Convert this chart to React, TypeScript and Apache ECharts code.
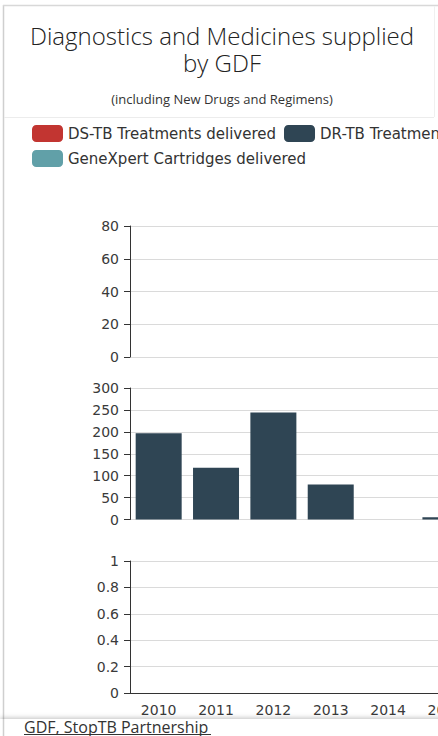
import React, { useEffect, useRef } from "react";
import * as echarts from "echarts";

const categories = ["2010", "2011", "2012", "2013", "2014", "2015"];
const dsTbTreatments: (number | null)[] = [null, null, null, null, null, null];
const drTbTreatments: (number | null)[] = [197, 118, 244, 80, null, 5];
const geneXpertCartridges: (number | null)[] = [null, null, null, null, null, null];

const seriesNames = [
  "DS-TB Treatments delivered",
  "DR-TB Treatments delivered",
  "GeneXpert Cartridges delivered",
];
const seriesColors = ["#c23531", "#2f4554", "#61a0a8"];

const titleText = "Diagnostics and Medicines supplied\nby GDF";
const subtitle = "(including New Drugs and Regimens)";
const footerText = "GDF, StopTB Partnership";

const yAxes = [
  { max: 80, interval: 20 },
  { max: 300, interval: 50 },
  { max: 1, interval: 0.2 },
];

const FONT = "DejaVu Sans";

export default function App() {
  const ref = useRef<HTMLDivElement>(null);

  useEffect(() => {
    if (!ref.current) return;
    const chart = echarts.init(ref.current, undefined, { renderer: "svg" });
    const catWidth = 57.35;
    const gridLeft = 130;
    const gridWidth = catWidth * categories.length;
    const grids = [
      { left: gridLeft, width: gridWidth, top: 226, height: 131 },
      { left: gridLeft, width: gridWidth, top: 388, height: 131.5 },
      { left: gridLeft, width: gridWidth, top: 561, height: 132 },
    ];
    const axisLabelStyle = { color: "#3a3a3a", fontFamily: FONT, fontSize: 14 };
    const barWidth = 46;
    const option: any = {
      animation: false,
      backgroundColor: "#fff",
      grid: grids,
      legend: {
        left: 32,
        top: 125,
        width: 520,
        padding: 0,
        itemWidth: 31,
        itemHeight: 17,
        itemGap: 8,
        icon: "roundRect",
        textStyle: { fontFamily: FONT, fontSize: 15, color: "#333" },
        data: seriesNames,
      },
      xAxis: [0, 1, 2].map((i) => ({
        type: "category",
        gridIndex: i,
        data: categories,
        show: i === 2,
        axisLine: { lineStyle: { color: "#333", width: 1 } },
        axisTick: { length: 6, lineStyle: { color: "#333" } },
        axisLabel: { ...axisLabelStyle, margin: 10 },
      })),
      yAxis: yAxes.map((a, i) => ({
        type: "value",
        gridIndex: i,
        min: 0,
        max: a.max,
        interval: a.interval,
        axisLine: { show: true, lineStyle: { color: "#333", width: 1 } },
        axisTick: { show: true, length: 6, lineStyle: { color: "#333" } },
        axisLabel: { ...axisLabelStyle, margin: 11 },
        splitLine: { show: true, lineStyle: { color: "#dadada", width: 1 } },
      })),
      series: [
        {
          name: seriesNames[0],
          type: "bar",
          xAxisIndex: 0,
          yAxisIndex: 0,
          barWidth,
          data: dsTbTreatments,
          itemStyle: { color: seriesColors[0] },
        },
        {
          name: seriesNames[1],
          type: "bar",
          xAxisIndex: 1,
          yAxisIndex: 1,
          barWidth,
          data: drTbTreatments,
          itemStyle: { color: seriesColors[1] },
        },
        {
          name: seriesNames[2],
          type: "bar",
          xAxisIndex: 2,
          yAxisIndex: 2,
          barWidth,
          data: geneXpertCartridges,
          itemStyle: { color: seriesColors[2] },
        },
      ],
      graphic: [
        { type: "line", z: 100, shape: { x1: 3.5, y1: 5, x2: 3.5, y2: 736 }, style: { stroke: "#cfcfcf", lineWidth: 1.5 } },
        { type: "line", z: 100, shape: { x1: 3, y1: 5.5, x2: 438, y2: 5.5 }, style: { stroke: "#d8d8d8", lineWidth: 1.5 } },
        { type: "line", z: 100, shape: { x1: 4, y1: 117.5, x2: 434, y2: 117.5 }, style: { stroke: "#ececec", lineWidth: 1 } },
        { type: "line", z: 100, shape: { x1: 434.5, y1: 6, x2: 434.5, y2: 117 }, style: { stroke: "#f0f0f0", lineWidth: 1 } },
        {
          type: "text",
          z: 100,
          x: 222,
          y: 48.5,
          style: {
            text: titleText,
            fill: "#222",
            font: `300 24px "Open Sans"`,
            lineHeight: 27,
            textAlign: "center",
            textVerticalAlign: "middle",
          },
        },
        {
          type: "text",
          z: 100,
          x: 222,
          y: 99,
          style: { text: subtitle, fill: "#333", font: `13px "Open Sans"`, textAlign: "center", textVerticalAlign: "middle" },
        },
        {
          type: "rect",
          z: 100,
          shape: { x: 0, y: 719, width: 500, height: 30 },
          style: { fill: "#fff", shadowBlur: 5, shadowColor: "rgba(0,0,0,0.25)", shadowOffsetY: -1 },
        },
        { type: "line", z: 101, shape: { x1: 3.5, y1: 719, x2: 3.5, y2: 736 }, style: { stroke: "#cfcfcf", lineWidth: 1.5 } },
        {
          type: "text",
          z: 101,
          x: 24,
          y: 727,
          style: { text: footerText, fill: "#333", font: `16px "Open Sans"`, textAlign: "left", textVerticalAlign: "middle" },
        },
        { type: "line", z: 101, shape: { x1: 24, y1: 734.5, x2: 211, y2: 734.5 }, style: { stroke: "#333", lineWidth: 1 } },
      ],
    };
    chart.setOption(option);
    return () => chart.dispose();
  }, []);

  return (
    <div style={{ position: "absolute", left: 0, top: 0, width: 438, height: 736, overflow: "hidden", background: "#fff" }}>
      <div ref={ref} style={{ width: 500, height: 736 }} />
    </div>
  );
}
